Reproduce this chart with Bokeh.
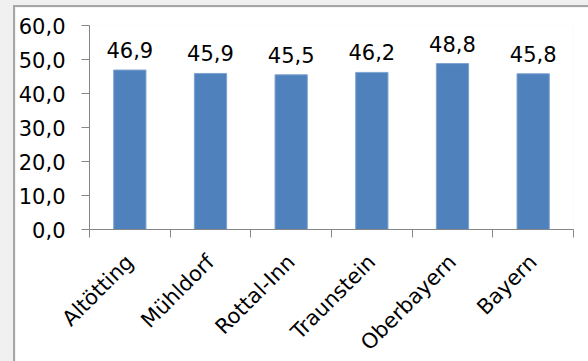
from bokeh.plotting import figure
from bokeh.models import ColumnDataSource, FixedTicker, LinearAxis, Range1d
from bokeh.layouts import column
from bokeh.embed import file_html
from bokeh.resources import INLINE
from bokeh.core.properties import value
import math

# Kreise und Vergleichsregionen
categories = ["Altötting", "Mühldorf", "Rottal-Inn", "Traunstein", "Oberbayern", "Bayern"]
values = [46.9, 45.9, 45.5, 46.2, 48.8, 45.8]
y_ticks = [0, 10, 20, 30, 40, 50, 60]

FONT = "DejaVu Sans"
FS = "21px"
GRID = "#868686"
BAR = "#4f81bd"


def de(v):
    return f"{v:.1f}".replace(".", ",")


centers = [i + 0.5 for i in range(len(categories))]
source = ColumnDataSource(dict(x=centers, top=values, label=[de(v) for v in values]))

p = figure(
    frame_width=484, frame_height=204,
    x_range=Range1d(0, len(categories)), y_range=Range1d(0, 60),
    output_backend="svg", toolbar_location=None,
    x_axis_type=None, y_axis_type=None,
    min_border_left=74, min_border_top=18, min_border_right=15, min_border_bottom=132,
)
p.margin = (7, 0, 0, 15)
p.background_fill_color = "white"
p.border_fill_color = "white"
p.outline_line_color = None

# y axis with German decimal comma
yax = LinearAxis(ticker=FixedTicker(ticks=y_ticks, minor_ticks=[]))
yax.major_label_overrides = {t: de(t) for t in y_ticks}
yax.axis_line_color = GRID
yax.major_tick_line_color = GRID
yax.major_tick_in = 0
yax.major_tick_out = 8
yax.major_label_standoff = 16
yax.major_label_text_font = FONT
yax.major_label_text_font_size = FS
yax.major_label_text_color = "black"
p.add_layout(yax, "left")

# x axis: labels at bar centres, tick marks at category boundaries
xax = LinearAxis(ticker=FixedTicker(ticks=centers,
                                    minor_ticks=list(range(len(categories) + 1))))
xax.major_label_overrides = {c: name for c, name in zip(centers, categories)}
xax.major_label_orientation = math.pi / 4
xax.axis_line_color = GRID
xax.major_tick_line_color = None
xax.major_tick_in = 0
xax.major_tick_out = 0
xax.minor_tick_line_color = GRID
xax.minor_tick_in = 0
xax.minor_tick_out = 8
xax.major_label_standoff = 21
xax.major_label_text_font = FONT
xax.major_label_text_font_size = FS
xax.major_label_text_color = "black"
p.add_layout(xax, "below")

p.xgrid.visible = False
p.ygrid.ticker = FixedTicker(ticks=y_ticks)
p.ygrid.grid_line_color = GRID
p.ygrid.grid_line_width = 1

p.vbar(x="x", top="top", width=0.4, source=source,
       fill_color=BAR, line_color="#7ea3d0", line_width=1)

p.text(x="x", y="top", text="label", source=source,
       text_align="center", text_baseline="alphabetic", y_offset=-20,
       text_font=value(FONT), text_font_size=FS, text_color="black")

# grey page with a thin frame line along the top and left of the chart area
frame_bg = ("linear-gradient(#a6a6a6,#a6a6a6) 13px 5px / 2px 100% no-repeat, "
            "linear-gradient(#a6a6a6,#a6a6a6) 13px 5px / 100% 2px no-repeat, #f0f0f0")
layout = column(p, styles={"background": frame_bg})

open("out.html", "w").write(file_html(layout, INLINE))
